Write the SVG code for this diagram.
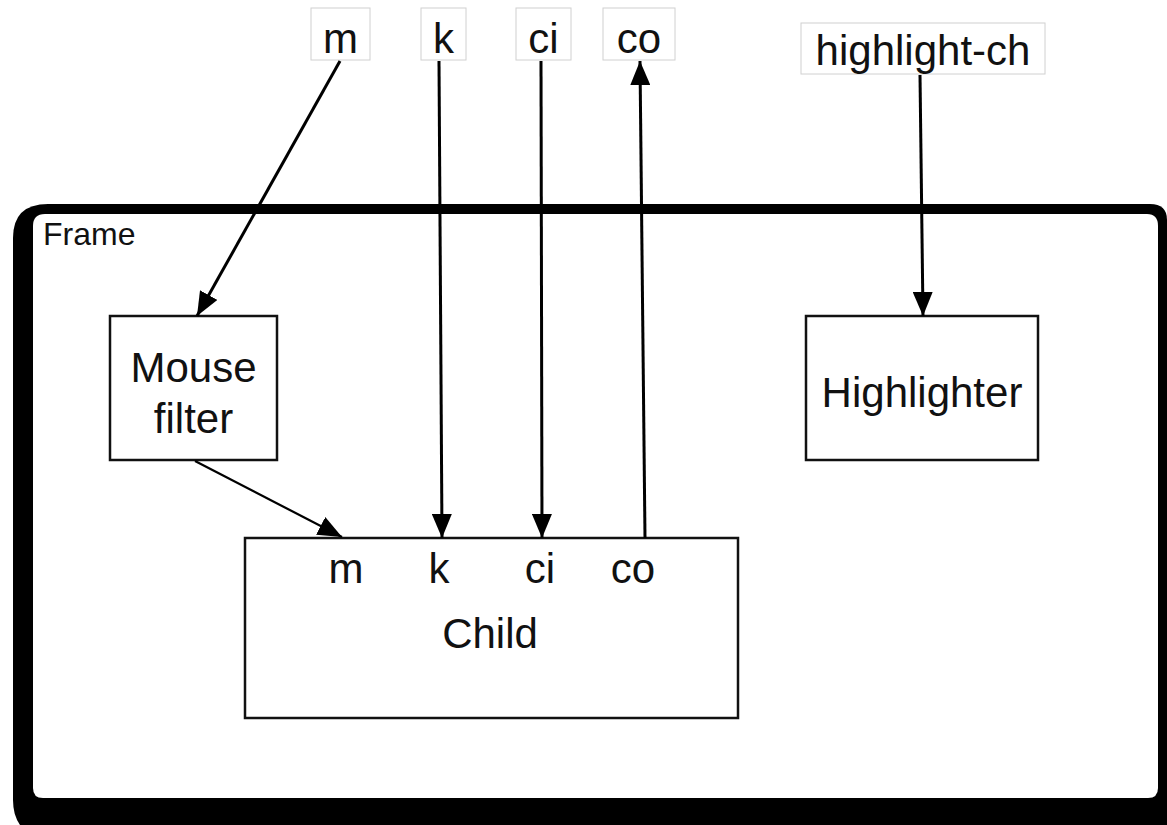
<svg xmlns="http://www.w3.org/2000/svg" width="1167" height="825" viewBox="0 0 1167 825">
<style>
text{font-family:"Liberation Sans",Arial,sans-serif;fill:#111}
.big{font-size:42px}
.lbl{fill:#fff;stroke:#d0d0d0;stroke-width:1}
.box{fill:#fff;stroke:#111;stroke-width:2.5}
.c{fill:none;stroke:#000;stroke-width:2.2}
.t{fill:none;stroke:#000;stroke-width:3}
</style>
<defs>
<marker id="ah" viewBox="0 0 24 20" refX="24" refY="10" markerWidth="24" markerHeight="20" markerUnits="userSpaceOnUse" orient="auto">
<path d="M0,0 L24,10 L0,20 z" fill="#000"/>
</marker>
</defs>
<rect width="1167" height="825" fill="#fff"/>
<g id="frame">
<path d="M48,204 L1150,204 Q1167,204 1167,220 L1167,825 L20,825 Q13,815 13,800 L13,238 Q13,204 48,204 Z" fill="#000"/>
<path d="M45,214 L1147,214 Q1158,214 1158,226 L1158,788 Q1158,798 1148,798 L43,798 Q33,798 33,788 L33,226 Q33,214 45,214 Z" fill="#fff"/>
<text x="43" y="245" style="font-size:32px">Frame</text>
</g>
<g id="label-m"><rect class="lbl" x="311" y="8" width="59" height="52"/><text class="big" x="340.5" y="53" text-anchor="middle">m</text></g>
<g id="label-k"><rect class="lbl" x="421" y="8" width="45" height="52"/><text class="big" x="443.5" y="53" text-anchor="middle">k</text></g>
<g id="label-ci"><rect class="lbl" x="516" y="8" width="55" height="52"/><text class="big" x="543.5" y="53" text-anchor="middle">ci</text></g>
<g id="label-co"><rect class="lbl" x="603" y="8" width="72" height="52"/><text class="big" x="639" y="53" text-anchor="middle">co</text></g>
<g id="label-highlight-ch"><rect class="lbl" x="801" y="23" width="244" height="51"/><text class="big" x="923" y="65" text-anchor="middle">highlight-ch</text></g>
<g id="mouse-filter">
<rect class="box" x="110" y="316" width="167" height="144"/>
<text class="big" x="193.5" y="382" text-anchor="middle">Mouse</text>
<text class="big" x="193.5" y="433" text-anchor="middle">filter</text>
</g>
<g id="highlighter">
<rect class="box" x="806" y="316" width="232" height="144"/>
<text class="big" x="922" y="407" text-anchor="middle">Highlighter</text>
</g>
<g id="child">
<rect class="box" x="245" y="538" width="493" height="180"/>
<text class="big" x="346" y="583" text-anchor="middle">m</text>
<text class="big" x="439" y="583" text-anchor="middle">k</text>
<text class="big" x="540" y="583" text-anchor="middle">ci</text>
<text class="big" x="633" y="583" text-anchor="middle">co</text>
<text class="big" x="490" y="648" text-anchor="middle">Child</text>
</g>
<g id="connectors">
<line class="t" x1="340" y1="61" x2="197" y2="316" marker-end="url(#ah)"/>
<line class="t" x1="439" y1="61" x2="442" y2="538" marker-end="url(#ah)"/>
<line class="t" x1="541" y1="61" x2="542" y2="538" marker-end="url(#ah)"/>
<line class="t" x1="645" y1="538" x2="640" y2="61" marker-end="url(#ah)"/>
<line class="t" x1="920" y1="75" x2="923" y2="316" marker-end="url(#ah)"/>
<line class="c" x1="195" y1="461" x2="342" y2="537" marker-end="url(#ah)"/>
</g>
</svg>
